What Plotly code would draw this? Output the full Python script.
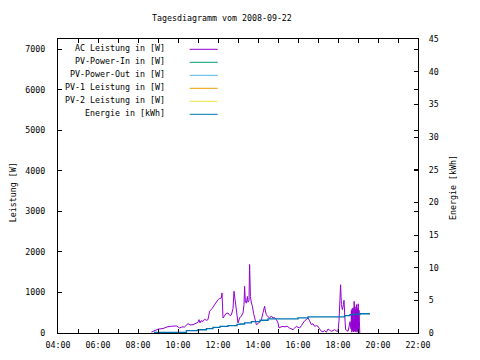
import plotly.graph_objects as go

# ---- data ----
ac_time = [8.67, 8.85, 9.0, 9.25, 9.45, 9.67, 9.92, 10.08, 10.2, 10.33, 10.5, 10.6, 10.75, 10.9, 11.0,
           11.05, 11.1, 11.15, 11.25, 11.33, 11.42, 11.5, 11.58, 11.7, 11.83, 11.92, 12.0, 12.08, 12.17,
           12.2, 12.25, 12.3, 12.4, 12.5, 12.6, 12.67, 12.75, 12.8, 12.85, 12.92, 13.0, 13.08, 13.17,
           13.25, 13.3, 13.33, 13.37, 13.42, 13.47, 13.5, 13.55, 13.58, 13.62, 13.67, 13.72, 13.78,
           13.83, 13.92, 14.0, 14.08, 14.17, 14.25, 14.33, 14.38, 14.42, 14.5, 14.58, 14.67, 14.75,
           14.83, 14.92, 15.0, 15.05, 15.15, 15.25, 15.35, 15.45, 15.58, 15.67, 15.75, 15.83, 15.92,
           16.0, 16.08, 16.17, 16.25, 16.33, 16.42, 16.5, 16.58, 16.67, 16.75, 16.83, 16.92, 17.0,
           17.08, 17.17, 17.25, 17.33, 17.42, 17.5, 17.58, 17.67, 17.75, 17.83, 17.92, 18.0, 18.05,
           18.08, 18.13, 18.17, 18.22, 18.27, 18.3, 18.34, 18.38, 18.45, 18.5, 18.55, 18.6, 18.65,
           18.67, 18.69, 18.71, 18.73, 18.75, 18.77, 18.79, 18.81, 18.83, 18.85, 18.87, 18.89, 18.91,
           18.93, 18.95, 18.97, 18.99, 19.01, 19.03, 19.05, 19.07, 19.09]
ac_power = [20, 60, 95, 110, 150, 165, 175, 125, 150, 148, 230, 200, 205, 240, 263,
            330, 250, 300, 288, 340, 313, 330, 535, 600, 700, 760, 823, 850, 864,
            988, 370, 400, 480, 494, 430, 450, 600, 1030, 850, 500, 247, 370, 420,
            494, 700, 1150, 760, 740, 900, 760, 800, 1690, 900, 740, 660, 480,
            370, 205, 230, 280, 330, 500, 660, 520, 450, 400, 370, 420, 370,
            380, 330, 250, 123, 150, 165, 150, 170, 123, 100, 82, 120, 165,
            140, 123, 180, 247, 300, 330, 370, 300, 205, 230, 165, 180, 165,
            100, 41, 30, 60, 20, 99, 70, 41, 60, 82, 50, 41, 300,
            905, 1190, 700, 576, 700, 806, 400, 82, 60, 41, 150, 280, 100,
            560, 20, 600, 60, 620, 30, 520, 780, 40, 650, 30, 580, 60,
            700, 20, 600, 40, 720, 30, 560, 300, 0]

en_time = [8.8, 10.42, 11.0, 11.42, 11.75, 12.1, 12.5, 12.95, 13.1, 13.33, 13.67, 14.1, 14.5,
           16.0, 16.5, 18.33, 18.6, 18.8, 19.0, 19.1, 19.6]
en_kwh = [0.08, 0.35, 0.5, 0.67, 0.85, 1.0, 1.13, 1.33, 1.38, 1.54, 1.74, 1.95, 2.15,
          2.3, 2.46, 2.67, 2.8, 2.9, 2.8, 2.95, 2.95]

legend_names = ["AC Leistung in [W]", "PV-Power-In in [W]", "PV-Power-Out in [W]",
                "PV-1 Leistung in [W]", "PV-2 Leistung in [W]", "Energie in [kWh]"]
legend_colors = ["#9400d3", "#009e73", "#56b4e9", "#e69f00", "#f0e442", "#0072b2"]

x_tickvals = [4, 6, 8, 10, 12, 14, 16, 18, 20, 22]
x_ticktext = ["04:00", "06:00", "08:00", "10:00", "12:00", "14:00", "16:00", "18:00", "20:00", "22:00"]
y_tickvals = [0, 1000, 2000, 3000, 4000, 5000, 6000, 7000]
y2_tickvals = [0, 5, 10, 15, 20, 25, 30, 35, 40, 45]

FONT = "DejaVu Sans Mono"
fs = 8.3

# page body has an 8px margin; plot area on screen spans x 58..418, y 39..333
OFF = 8
PL, PR, PT, PB = 58.3, 418.3, 39, 333
W, H = 480 - OFF, 360 - OFF


def px(x):
    return (x - PL) / (PR - PL)


def py(y):
    return (PB - y) / (PB - PT)


fig = go.Figure()
fig.add_trace(go.Scatter(x=ac_time, y=ac_power, mode="lines",
                         line=dict(color=legend_colors[0], width=1), showlegend=False))
fig.add_trace(go.Scatter(x=en_time, y=en_kwh, mode="lines", line_shape="hv", yaxis="y2",
                         line=dict(color=legend_colors[5], width=1.3), showlegend=False))

axis_common = dict(showline=True, linecolor="black", linewidth=1, showgrid=False, zeroline=False,
                   ticks="inside", ticklen=4, tickcolor="black",
                   tickfont=dict(family=FONT, size=fs, color="black"))

fig.update_layout(
    width=W, height=H,
    margin=dict(l=PL - OFF, r=W - (PR - OFF), t=PT - OFF, b=H - (PB - OFF), autoexpand=False),
    paper_bgcolor="white", plot_bgcolor="white",
    showlegend=False,
    xaxis=dict(range=[4, 22], tickvals=x_tickvals, ticktext=x_ticktext, mirror="ticks",
               minor=dict(dtick=1, tick0=4, ticks="inside", ticklen=4, tickcolor="black"),
               ticklabelstandoff=4, automargin=False, **axis_common),
    yaxis=dict(range=[0, 7250], tickvals=y_tickvals, mirror="ticks", ticklabelstandoff=10,
               automargin=False, **axis_common),
    yaxis2=dict(range=[0, 45], tickvals=y2_tickvals, overlaying="y", side="right",
                ticklabelstandoff=8, automargin=False, **axis_common),
)

# title and axis titles
fig.add_annotation(text="Tagesdiagramm vom 2008-09-22", xref="paper", yref="paper",
                   x=px(222), y=py(18), xanchor="center", yanchor="middle", showarrow=False,
                   font=dict(family=FONT, size=fs, color="black"))
fig.add_annotation(text="Leistung [W]", xref="paper", yref="paper", textangle=-90,
                   x=px(13), y=py(192.5), xanchor="center", yanchor="middle", showarrow=False,
                   font=dict(family=FONT, size=fs, color="black"))
fig.add_annotation(text="Energie [kWh]", xref="paper", yref="paper", textangle=-90,
                   x=px(453.3), y=py(188), xanchor="center", yanchor="middle", showarrow=False,
                   font=dict(family=FONT, size=fs, color="black"))

# in-plot key
rows_y = [49.3, 62.3, 75.3, 88.3, 101.3, 114.3]
for name, col, ry in zip(legend_names, legend_colors, rows_y):
    fig.add_annotation(text=name, xref="paper", yref="paper", x=px(167), y=py(ry - 1),
                       xanchor="right", yanchor="middle", showarrow=False,
                       font=dict(family=FONT, size=fs, color="black"))
    fig.add_shape(type="line", xref="paper", yref="paper",
                  x0=px(190), x1=px(218), y0=py(ry), y1=py(ry),
                  line=dict(color=col, width=1))

fig.write_html("out.html")
